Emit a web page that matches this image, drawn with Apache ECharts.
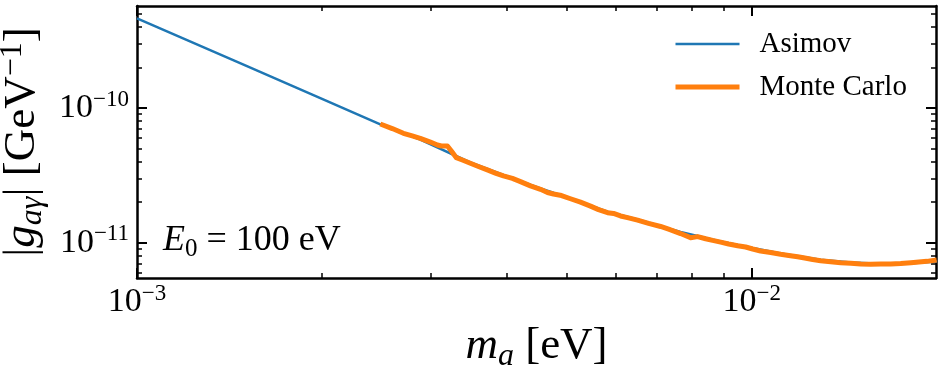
<!DOCTYPE html>
<html><head><meta charset="utf-8">
<script src="https://cdn.jsdelivr.net/npm/echarts@6/dist/echarts.min.js"></script>
<style>html,body{margin:0;padding:0;background:#fff}#c{width:942px;height:375px}</style>
</head><body><div id="c"></div>
<script>
// ---- data ----
const asimovMass = [0.001, 0.0015, 0.002, 0.002488, 0.00289, 0.003486, 0.003946, 0.004534, 0.005073, 0.005829, 0.006522, 0.007662, 0.008903, 0.01004, 0.01115, 0.01295, 0.0145, 0.01623, 0.01816, 0.0200];
const asimovG = [4.63e-10, 2.07e-10, 1.17e-10, 7.57e-11, 5.83e-11, 3.94e-11, 3.18e-11, 2.53e-11, 2.13e-11, 1.70e-11, 1.49e-11, 1.20e-11, 1.02e-11, 9.13e-12, 8.31e-12, 7.46e-12, 7.13e-12, 6.97e-12, 7.04e-12, 7.25e-12];
const mcMass = [0.002488, 0.002602, 0.002713, 0.002804, 0.00289, 0.003001, 0.003081, 0.003128, 0.003199, 0.003247, 0.003308, 0.003383, 0.003486, 0.003593, 0.003715, 0.003829, 0.003946, 0.004081, 0.004206, 0.004367, 0.004534, 0.004654, 0.00476, 0.004905, 0.005073, 0.005267, 0.005468, 0.005635, 0.005829, 0.005961, 0.006119, 0.006306, 0.006522, 0.006796, 0.00711, 0.007326, 0.007662, 0.007955, 0.008167, 0.008416, 0.00864, 0.008903, 0.009174, 0.009488, 0.009777, 0.01004, 0.01034, 0.01074, 0.01115, 0.01149, 0.01188, 0.0122, 0.01257, 0.01295, 0.01345, 0.01396, 0.0145, 0.01505, 0.01562, 0.01623, 0.01684, 0.01748, 0.01816, 0.01871, 0.01928, 0.0200];
const mcG = [7.61e-11, 7.04e-11, 6.49e-11, 6.20e-11, 5.96e-11, 5.59e-11, 5.31e-11, 5.22e-11, 5.22e-11, 4.79e-11, 4.28e-11, 4.11e-11, 3.89e-11, 3.68e-11, 3.47e-11, 3.29e-11, 3.13e-11, 3.00e-11, 2.84e-11, 2.64e-11, 2.49e-11, 2.36e-11, 2.30e-11, 2.24e-11, 2.12e-11, 2.00e-11, 1.87e-11, 1.76e-11, 1.67e-11, 1.65e-11, 1.58e-11, 1.53e-11, 1.47e-11, 1.39e-11, 1.32e-11, 1.26e-11, 1.17e-11, 1.09e-11, 1.11e-11, 1.07e-11, 1.04e-11, 1.01e-11, 9.78e-12, 9.50e-12, 9.29e-12, 8.98e-12, 8.68e-12, 8.46e-12, 8.20e-12, 8.04e-12, 7.87e-12, 7.70e-12, 7.50e-12, 7.35e-12, 7.21e-12, 7.09e-12, 7.03e-12, 6.95e-12, 6.91e-12, 6.95e-12, 6.95e-12, 7.01e-12, 7.10e-12, 7.19e-12, 7.27e-12, 7.44e-12];

const seriesNames = ['Asimov', 'Monte Carlo'];
const xMajorTicks = [0.001, 0.01];
const xTickLabels = ['−3', '−2'];
const xMinorTicks = [0.002, 0.003, 0.004, 0.005, 0.006, 0.007, 0.008, 0.009];
const yMajorTicks = [1e-11, 1e-10];
const yTickLabels = ['−11', '−10'];
const yMinorTicks = [6e-12, 7e-12, 8e-12, 9e-12, 2e-11, 3e-11, 4e-11, 5e-11, 6e-11, 7e-11, 8e-11, 9e-11, 2e-10, 3e-10, 4e-10, 5e-10];
const X_MIN = 0.001, X_MAX = 0.01995;
const Y_MIN = 5.47e-12, Y_MAX = 5.72e-10;

// ---- chart ----
const FONT = "'Liberation Serif', 'Times New Roman', serif";
const chart = echarts.init(document.getElementById('c'), null, {renderer: 'canvas'});

function tickLabel(v, ticks, labels) {
  const e = v > 0 ? Math.log10(v) : v;
  for (let i = 0; i < ticks.length; i++) {
    if (Math.abs(Math.log10(ticks[i]) - e) < 1e-6) return '{b|10}{s|' + labels[i] + '}';
  }
  return '';
}
const tickRich = {
  b: {fontFamily: FONT, fontSize: 34, lineHeight: 40, color: '#000'},
  s: {fontFamily: FONT, fontSize: 23, lineHeight: 22, verticalAlign: 'top', color: '#000'}
};
const lineBlack = {color: '#000', width: 2.5};

function makeAxis(base, pos, kind, extra) {
  const isMajor = kind === 'major';
  const ax = Object.assign({
    gridIndex: 0,
    position: pos,
    splitLine: {show: false},
    axisLine: {show: isMajor, onZero: false, lineStyle: lineBlack},
    axisTick: {
      show: true, inside: true, length: isMajor ? 10 : 5,
      customValues: isMajor ? base.major : base.minor,
      lineStyle: {color: '#000', width: isMajor ? 2 : 1.5}
    },
    axisLabel: {show: false},
    minorTick: {show: false}
  }, base.range, extra || {});
  ax.type = 'log';
  ax.logBase = 10;
  return ax;
}
const xBase = {major: xMajorTicks, minor: xMinorTicks, range: {min: X_MIN, max: X_MAX}};
const yBase = {major: yMajorTicks, minor: yMinorTicks, range: {min: Y_MIN, max: Y_MAX}};

const option = {
  animation: false,
  backgroundColor: '#fff',
  grid: {left: 137, right: 6, top: 6, bottom: 97, containLabel: false, outerBoundsMode: 'none'},
  xAxis: [
    makeAxis(xBase, 'bottom', 'major', {
      axisLabel: {
        show: true, customValues: xMajorTicks, margin: 4,
        formatter: v => tickLabel(v, xMajorTicks, xTickLabels), rich: tickRich
      },
      name: '{i|m}{sub|a}{b| [eV]}',
      nameLocation: 'middle', nameGap: 38,
      nameTextStyle: {
        fontFamily: FONT, fontSize: 45, color: '#000',
        rich: {
          i: {fontFamily: FONT, fontSize: 45, fontStyle: 'italic', lineHeight: 52, color: '#000'},
          sub: {fontFamily: FONT, fontSize: 32, fontStyle: 'italic', lineHeight: 30, verticalAlign: 'bottom', color: '#000'},
          b: {fontFamily: FONT, fontSize: 45, lineHeight: 52, color: '#000'}
        }
      }
    }),
    makeAxis(xBase, 'bottom', 'minor'),
    makeAxis(xBase, 'top', 'major'),
    makeAxis(xBase, 'top', 'minor')
  ],
  yAxis: [
    makeAxis(yBase, 'left', 'major', {
      axisLabel: {
        show: true, customValues: yMajorTicks, margin: 8,
        formatter: v => tickLabel(v, yMajorTicks, yTickLabels), rich: tickRich
      },
      name: '{b||}{i|g}{sub|aγ}{b||}{b| [GeV}{sup|−1}{b|]}',
      nameLocation: 'middle', nameGap: 85, nameRotate: 90,
      nameTextStyle: {
        fontFamily: FONT, fontSize: 45, color: '#000',
        rich: {
          i: {fontFamily: FONT, fontSize: 45, fontStyle: 'italic', lineHeight: 52, color: '#000'},
          sub: {fontFamily: FONT, fontSize: 32, fontStyle: 'italic', lineHeight: 30, verticalAlign: 'bottom', color: '#000'},
          sup: {fontFamily: FONT, fontSize: 32, lineHeight: 30, verticalAlign: 'top', color: '#000'},
          b: {fontFamily: FONT, fontSize: 45, lineHeight: 52, color: '#000'}
        }
      }
    }),
    makeAxis(yBase, 'left', 'minor'),
    makeAxis(yBase, 'right', 'major'),
    makeAxis(yBase, 'right', 'minor')
  ],
  legend: {
    orient: 'vertical', left: 673, top: 29, padding: 0,
    itemWidth: 64, itemHeight: 14, itemGap: 13,
    selectedMode: false,
    textStyle: {fontFamily: FONT, fontSize: 29, color: '#000', lineHeight: 30, padding: [0, 0, 0, 15]},
    data: [
      {name: seriesNames[0], itemStyle: {opacity: 0}, lineStyle: {width: 2.5, opacity: 1}},
      {name: seriesNames[1], itemStyle: {opacity: 0}, lineStyle: {width: 5, opacity: 1}}
    ]
  },
  graphic: [{
    type: 'text', left: 163, top: 223,
    style: {
      text: '{i|E}{sub|0}{b| = 100 eV}',
      rich: {
        i: {fontFamily: FONT, fontSize: 36, fontStyle: 'italic', lineHeight: 42, fill: '#000'},
        sub: {fontFamily: FONT, fontSize: 25, lineHeight: 20, verticalAlign: 'bottom', fill: '#000'},
        b: {fontFamily: FONT, fontSize: 36, lineHeight: 42, fill: '#000'}
      }
    }
  }],
  series: [
    {
      name: seriesNames[0], type: 'line', xAxisIndex: 0, yAxisIndex: 0,
      data: asimovMass.map((m, i) => [m, asimovG[i]]),
      symbol: 'none', showSymbol: false, smooth: false, z: 2,
      lineStyle: {color: '#1f77b4', width: 2.5}, itemStyle: {color: '#1f77b4'}
    },
    {
      name: seriesNames[1], type: 'line', xAxisIndex: 0, yAxisIndex: 0,
      data: mcMass.map((m, i) => [m, mcG[i]]),
      symbol: 'none', showSymbol: false, smooth: false, z: 3,
      lineStyle: {color: '#ff7f0e', width: 5, join: 'round'}, itemStyle: {color: '#ff7f0e'}
    }
  ]
};
chart.setOption(option);
</script>
</body></html>
